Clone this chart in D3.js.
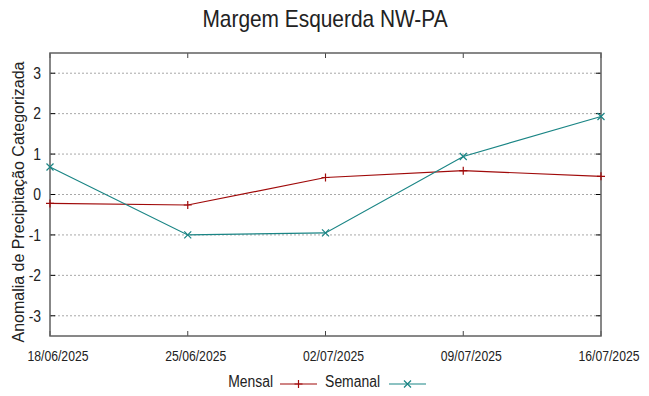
<!DOCTYPE html>
<html lang="pt">
<head>
    <meta charset="UTF-8">
    <title>Margem Esquerda NW-PA</title>
    <script src="https://d3js.org/d3.v7.min.js"></script>
    <style>
        body { margin: 0; background: #fff; }
        text { font-family: "Liberation Sans", Arial, sans-serif; fill: #222; }
    </style>
</head>
<body>
    <svg id="chart" width="649" height="396"></svg>

    <script>
        // data
        const dates = ["2025-06-18", "2025-06-25", "2025-07-02", "2025-07-09", "2025-07-16"];
        const mensal = [-0.22, -0.26, 0.42, 0.59, 0.45];
        const semanal = [0.68, -1.00, -0.95, 0.94, 1.93];
        const yTicks = [-3, -2, -1, 0, 1, 2, 3];

        const width = 649, height = 396;
        const margin = {top: 53, right: 48, bottom: 60, left: 50};
        const sx = 0.87; // text is a bit squeezed horizontally

        const parse = d3.timeParse("%Y-%m-%d");
        const fmt = d3.timeFormat("%d/%m/%Y");
        const days = dates.map(parse);

        const svg = d3.select("#chart");

        const x = d3.scaleTime()
            .domain(d3.extent(days))
            .range([margin.left, width - margin.right]);

        const y = d3.scaleLinear()
            .domain([-3.5, 3.5])
            .range([height - margin.bottom, margin.top]);

        const x0 = x.range()[0], x1 = x.range()[1];
        const y0 = y.range()[0], y1 = y.range()[1];

        // horizontal grid
        svg.append("g")
            .selectAll("line")
            .data(yTicks)
            .join("line")
            .attr("x1", x0).attr("x2", x1)
            .attr("y1", d => y(d)).attr("y2", d => y(d))
            .attr("stroke", "#a8a8a8")
            .attr("stroke-width", 1)
            .attr("stroke-dasharray", "2,2");

        // y ticks, both sides
        const yt = svg.append("g");
        yTicks.forEach(d => {
            yt.append("line")
                .attr("x1", x0).attr("x2", x0 + 5)
                .attr("y1", y(d)).attr("y2", y(d))
                .attr("stroke", "#000");
            yt.append("line")
                .attr("x1", x1 - 5).attr("x2", x1)
                .attr("y1", y(d)).attr("y2", y(d))
                .attr("stroke", "#000");
            yt.append("text")
                .attr("transform", `translate(41,${y(d)}) scale(${sx},1)`)
                .attr("text-anchor", "end")
                .attr("dy", "0.36em")
                .attr("font-size", "16px")
                .text(d);
        });

        // x ticks, top and bottom
        const xt = svg.append("g");
        days.forEach(d => {
            xt.append("line")
                .attr("x1", x(d)).attr("x2", x(d))
                .attr("y1", y0).attr("y2", y0 - 5)
                .attr("stroke", "#444");
            xt.append("line")
                .attr("x1", x(d)).attr("x2", x(d))
                .attr("y1", y1).attr("y2", y1 + 5)
                .attr("stroke", "#444");
            xt.append("text")
                .attr("transform", `translate(${x(d) + 8},361) scale(${sx},1)`)
                .attr("text-anchor", "middle")
                .attr("font-size", "14px")
                .text(fmt(d));
        });

        // border
        svg.append("rect")
            .attr("x", x0).attr("y", y1)
            .attr("width", x1 - x0).attr("height", y0 - y1)
            .attr("fill", "none")
            .attr("stroke", "#606060")
            .attr("stroke-width", 1.5);

        // series
        const red = "#a00a0a", teal = "#1a8585";
        const line = d3.line()
            .x((d, i) => x(days[i]))
            .y(d => y(d));

        svg.append("path")
            .datum(mensal)
            .attr("d", line)
            .attr("fill", "none")
            .attr("stroke", red)
            .attr("stroke-width", 1.2);

        svg.append("path")
            .datum(semanal)
            .attr("d", line)
            .attr("fill", "none")
            .attr("stroke", teal)
            .attr("stroke-width", 1.2);

        function plus(g, cx, cy, c) {
            g.append("path")
                .attr("d", `M${cx - 4},${cy}H${cx + 4}M${cx},${cy - 4}V${cy + 4}`)
                .attr("stroke", c).attr("stroke-width", 1.2).attr("fill", "none");
        }
        function cross(g, cx, cy, c) {
            g.append("path")
                .attr("d", `M${cx - 3.5},${cy - 3.5}L${cx + 3.5},${cy + 3.5}M${cx - 3.5},${cy + 3.5}L${cx + 3.5},${cy - 3.5}`)
                .attr("stroke", c).attr("stroke-width", 1.2).attr("fill", "none");
        }

        const marks = svg.append("g");
        mensal.forEach((v, i) => plus(marks, x(days[i]), y(v), red));
        semanal.forEach((v, i) => cross(marks, x(days[i]), y(v), teal));

        // title
        svg.append("text")
            .attr("transform", `translate(325,27) scale(${sx},1)`)
            .attr("text-anchor", "middle")
            .attr("font-size", "24px")
            .text("Margem Esquerda NW-PA");

        // y label
        svg.append("text")
            .attr("transform", "translate(24,202) rotate(-90)")
            .attr("text-anchor", "middle")
            .attr("font-size", "16px")
            .text("Anomalia de Precipitação Categorizada");

        // legend
        const leg = svg.append("g");
        leg.append("text")
            .attr("transform", `translate(273,387) scale(${sx},1)`)
            .attr("text-anchor", "end")
            .attr("font-size", "16px")
            .text("Mensal");
        leg.append("line")
            .attr("x1", 280).attr("x2", 317).attr("y1", 384).attr("y2", 384)
            .attr("stroke", red).attr("stroke-width", 1.2);
        plus(leg, 298.5, 384, red);

        leg.append("text")
            .attr("transform", `translate(380,387) scale(${sx},1)`)
            .attr("text-anchor", "end")
            .attr("font-size", "16px")
            .text("Semanal");
        leg.append("line")
            .attr("x1", 389).attr("x2", 426).attr("y1", 384).attr("y2", 384)
            .attr("stroke", teal).attr("stroke-width", 1.2);
        cross(leg, 407.5, 384, teal);
    </script>
</body>
</html>
